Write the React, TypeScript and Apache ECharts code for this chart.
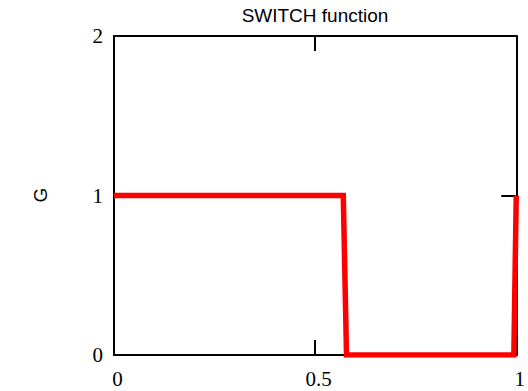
import React, { useEffect, useRef } from "react";
import * as echarts from "echarts";

// Switch function G(x): stays at 1, drops to 0, then returns to 1 at the end
const xValues: number[] = [0, 0.57, 0.578, 0.994, 1.0];
const gValues: number[] = [1, 1, 0, 0, 1];

const xTicks: number[] = [0, 0.5, 1];
const yTicks: number[] = [0, 1, 2];

const titleText = "SWITCH function";
const yName = "G";

export default function App() {
  const ref = useRef<HTMLDivElement>(null);

  useEffect(() => {
    if (!ref.current) return;
    const chart = echarts.init(ref.current, null, { renderer: "svg" });

    const serif = "'Liberation Serif', 'Times New Roman', serif";
    const sans = "'Liberation Sans', Arial, sans-serif";

    const frameLine = { show: true, onZero: false, lineStyle: { color: "#000", width: 2 } };
    const inTicks = { show: true, inside: true, length: 15, lineStyle: { color: "#000", width: 2 } };

    chart.setOption({
      animation: false,
      backgroundColor: "#fff",
      grid: { left: 114, right: 5, top: 36, bottom: 36, containLabel: false },
      graphic: [
        {
          type: "text",
          x: 315,
          y: 15,
          style: {
            text: titleText,
            fontFamily: sans,
            fontSize: 19,
            fill: "#000",
            align: "center",
            verticalAlign: "middle",
          },
        },
        {
          type: "text",
          x: 40,
          y: 195,
          rotation: Math.PI / 2,
          style: {
            text: yName,
            fontFamily: sans,
            fontSize: 19,
            fill: "#000",
            align: "center",
            verticalAlign: "middle",
          },
        },
      ],
      xAxis: [
        {
          type: "value",
          position: "bottom",
          min: 0,
          max: 1,
          interval: 0.5,
          axisLine: frameLine,
          axisTick: inTicks,
          splitLine: { show: false },
          axisLabel: {
            margin: 13,
            padding: [0, 0, 0, 7],
            fontFamily: serif,
            fontSize: 21,
            color: "#000",
            showMinLabel: true,
            showMaxLabel: true,
            formatter: (v: number) => (xTicks.includes(v) ? String(v) : ""),
          },
          z: 1,
        },
        {
          type: "value",
          position: "top",
          min: 0,
          max: 1,
          interval: 0.5,
          axisLine: frameLine,
          axisTick: inTicks,
          splitLine: { show: false },
          axisLabel: { show: false },
        },
      ],
      yAxis: [
        {
          type: "value",
          position: "left",
          min: 0,
          max: 2,
          interval: 1,
          axisLine: frameLine,
          axisTick: inTicks,
          splitLine: { show: false },
          axisLabel: {
            margin: 11,
            padding: [8, 0, 0, 0],
            fontFamily: serif,
            fontSize: 21,
            color: "#000",
            formatter: (v: number) => (yTicks.includes(v) ? String(v) : ""),
          },
        },
        {
          type: "value",
          position: "right",
          min: 0,
          max: 2,
          interval: 1,
          axisLine: frameLine,
          axisTick: inTicks,
          splitLine: { show: false },
          axisLabel: { show: false },
        },
      ],
      series: [
        {
          type: "line",
          xAxisIndex: 0,
          yAxisIndex: 0,
          data: xValues.map((x, i) => [x, gValues[i]]),
          showSymbol: false,
          symbol: "none",
          lineStyle: { color: "#ff0000", width: 5.5, join: "miter" },
          z: 3,
        },
      ],
    });

    return () => chart.dispose();
  }, []);

  return (
    <div
      ref={ref}
      style={{ position: "fixed", left: 0, top: 0, width: 528, height: 391 }}
    />
  );
}
